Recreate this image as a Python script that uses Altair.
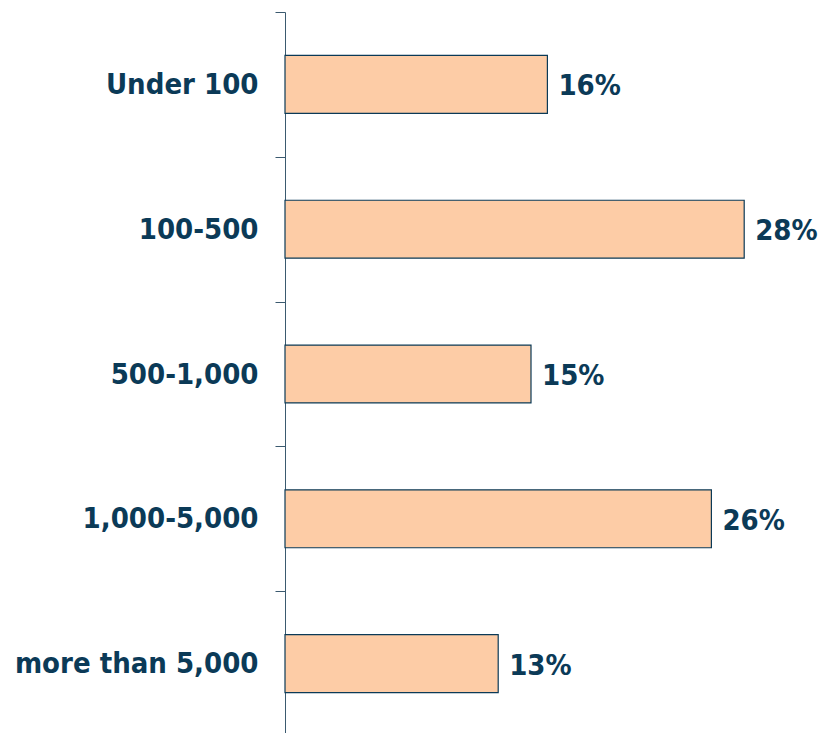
import altair as alt
import pandas as pd

categories = ["Under 100", "100-500", "500-1,000", "1,000-5,000", "more than 5,000"]
values = [16, 28, 15, 26, 13]

df = pd.DataFrame({"cat": categories, "v": values})
df["label"] = df["v"].astype(str) + "%"

FONT = "DejaVu Sans Condensed"
TEXT = "#0b3a57"
AXIS = "#3b5a6f"

y = alt.Y("cat:N", sort=categories, title=None,
          scale=alt.Scale(paddingInner=0, paddingOuter=0),
          axis=alt.Axis(domainColor=AXIS, tickColor=AXIS, tickSize=10, tickBand="extent",
                        labelPadding=17, labelFontSize=29, labelFont=FONT, labelFontWeight="bold",
                        labelColor=TEXT, grid=False, minExtent=277, maxExtent=277, labelLimit=400))
x = alt.X("v:Q", axis=None, scale=alt.Scale(domain=[0, 30]))

bars = alt.Chart(df).mark_bar(height=alt.RelativeBandSize(0.4), fill="#fdcca6", stroke=TEXT,
                              strokeWidth=1.2).encode(x=x, y=y)
labels = alt.Chart(df).mark_text(align="left", baseline="middle", dx=11, dy=2, fontSize=29,
                                 font=FONT, fontWeight="bold", color=TEXT).encode(
    x=x, y=alt.Y("cat:N", sort=categories), text="label:N")

chart = (bars + labels).properties(
    width=492, height=724, padding={"top": -10, "left": 0, "right": 0, "bottom": 0}
).configure_view(stroke=None)

chart.save("out.html", embed_options={"renderer": "svg", "actions": False})
